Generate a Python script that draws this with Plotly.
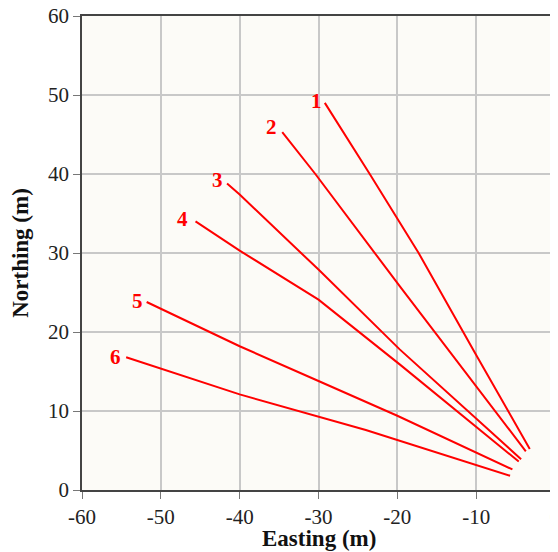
import plotly.graph_objects as go

# Line traces (Easting, Northing)
line_names = ["1", "2", "3", "4", "5", "6"]
easting = [
    [-29.2, -23.5, -17.3, -14.5, -10.0, -3.2],
    [-34.6, -30.4, -19.7, -3.7],
    [-41.6, -40.0, -30.0, -19.7, -4.3],
    [-45.6, -40.0, -30.0, -19.7, -4.6],
    [-51.8, -40.0, -30.0, -20.0, -5.4],
    [-54.4, -40.0, -24.0, -5.7],
]
northing = [
    [49.0, 40.0, 30.0, 25.0, 17.1, 5.2],
    [45.3, 40.0, 25.8, 4.9],
    [38.8, 37.4, 27.9, 17.8, 3.9],
    [34.0, 30.3, 24.1, 15.9, 3.6],
    [23.8, 18.2, 13.8, 9.4, 2.6],
    [16.8, 12.1, 7.6, 1.8],
]
label_x = [-30.3, -35.9, -42.8, -47.2, -53.0, -55.8]
label_y = [49.3, 46.0, 39.3, 34.3, 23.9, 16.8]

x_ticks = [-60, -50, -40, -30, -20, -10, 0]
x_ticktext = ["-60", "-50", "-40", "-30", "-20", "-10", "0"]
y_ticks = [0, 10, 20, 30, 40, 50, 60]
y_ticktext = ["0", "10", "20", "30", "40", "50", "60"]

fig = go.Figure()
for name, xs, ys in zip(line_names, easting, northing):
    fig.add_trace(go.Scatter(x=xs, y=ys, mode="lines", name=name,
                             line=dict(color="#ff0000", width=2),
                             showlegend=False))

for name, lx, ly in zip(line_names, label_x, label_y):
    fig.add_annotation(x=lx, y=ly, text="<b>" + name + "</b>", showarrow=False,
                       font=dict(family="Liberation Serif", size=21, color="#ff0000"),
                       xanchor="center", yanchor="middle")

fig.add_annotation(x=0.5, y=0, xref="paper", yref="paper", yshift=-48,
                   text="<b>Easting (m)</b>", showarrow=False,
                   font=dict(family="Liberation Serif", size=23, color="#111111"),
                   xanchor="center", yanchor="middle")

axis_common = dict(
    showgrid=True, gridcolor="#c8c8c8", gridwidth=1.5,
    showline=True, linecolor="#444444", linewidth=1.5, mirror=True,
    ticks="outside", ticklen=7, tickcolor="#777777", tickwidth=1.2,
    zeroline=False, automargin=False, ticklabeloverflow="allow",
    tickfont=dict(family="Liberation Serif", size=21, color="#222222"),
)

fig.update_layout(
    width=558, height=552,
    margin=dict(l=74, r=11, t=8, b=70),
    paper_bgcolor="white",
    plot_bgcolor="#fcfbf7",
    xaxis=dict(range=[-60, 0], tickvals=x_ticks, ticktext=x_ticktext,
               **axis_common),
    yaxis=dict(range=[0, 60], tickvals=y_ticks, ticktext=y_ticktext,
               title=dict(text="<b>Northing (m)</b>", standoff=13,
                          font=dict(family="Liberation Serif", size=23, color="#111111")),
               **axis_common),
)

fig.write_html("out.html")
